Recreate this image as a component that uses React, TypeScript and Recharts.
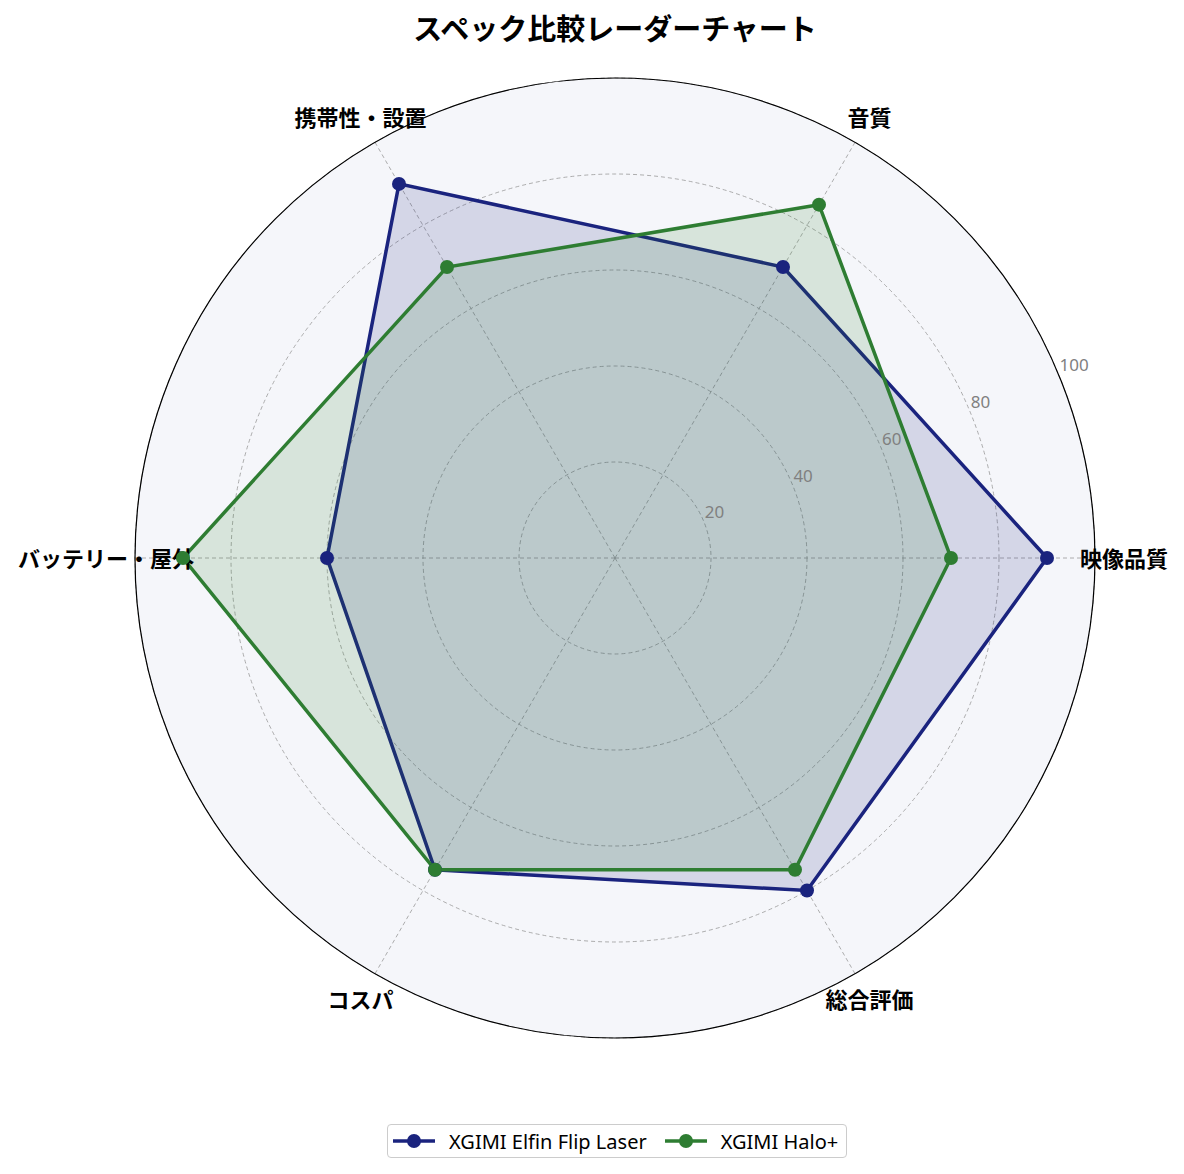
import React from 'react'
import {
  RadarChart,
  Radar,
  PolarGrid,
  PolarAngleAxis,
  PolarRadiusAxis,
} from 'recharts'

// listed clockwise starting from the right-hand axis
const categories = ['映像品質', '総合評価', 'コスパ', 'バッテリー・屋外', '携帯性・設置', '音質']
const elfinValues = [90, 80, 75, 60, 90, 70]
const haloValues = [70, 75, 75, 90, 70, 85]
const radiusTicks = [20, 40, 60, 80, 100]

const seriesNames = ['XGIMI Elfin Flip Laser', 'XGIMI Halo+']
const colors = ['#1a237e', '#2e7d32']

const data = categories.map((c, i) => ({
  subject: c,
  elfin: elfinValues[i],
  halo: haloValues[i],
}))

const W = 1184
const H = 1174
const CX = 615
const CY = 558
const R = 480
const LABEL_R = 509
const FONT = '"Noto Sans CJK JP", "Noto Sans", sans-serif'
const LATIN = '"Noto Sans", "Noto Sans CJK JP", sans-serif'

function AngleTick(props: any) {
  const a = Math.atan2(CY - props.y, props.x - CX)
  const x = CX + LABEL_R * Math.cos(a)
  const y = CY - LABEL_R * Math.sin(a)
  return (
    <text
      x={x}
      y={y - 1}
      textAnchor="middle"
      dominantBaseline="central"
      fontSize={22}
      fontWeight="bold"
      fill="#000"
      fontFamily={FONT}
    >
      {props.payload.value}
    </text>
  )
}

function RadiusTick(props: any) {
  return (
    <text
      x={props.x + 1}
      y={props.y - 3}
      textAnchor="start"
      fontSize={17}
      fill="#808080"
      fontFamily={LATIN}
    >
      {props.payload.value}
    </text>
  )
}

function LegendBox() {
  return (
    <div
      style={{
        position: 'absolute',
        left: 387,
        top: 1124,
        height: 34,
        display: 'flex',
        alignItems: 'center',
        border: '1px solid #cccccc',
        borderRadius: 4,
        padding: '0 8px 0 5px',
        background: '#fff',
        fontFamily: LATIN,
        fontSize: 20,
        color: '#000',
        boxSizing: 'border-box',
      }}
    >
      {seriesNames.map((n, i) => (
        <div key={n} style={{ display: 'flex', alignItems: 'center', marginRight: i === 0 ? 18 : 0 }}>
          <svg width={42} height={16} style={{ marginRight: 14 }}>
            <line x1={0} y1={8} x2={42} y2={8} stroke={colors[i]} strokeWidth={3.5} />
            <circle cx={21} cy={8} r={7} fill={colors[i]} />
          </svg>
          <span>{n}</span>
        </div>
      ))}
    </div>
  )
}

export default function App() {
  return (
    <div style={{ position: 'absolute', left: 0, top: 0, width: W, height: H, background: '#fff' }}>
      <div
        style={{
          position: 'absolute',
          left: CX - R,
          top: CY - R,
          width: 2 * R,
          height: 2 * R,
          borderRadius: '50%',
          background: '#f5f6fa',
        }}
      />
      <div
        style={{
          position: 'absolute',
          left: CX - 300,
          top: 9,
          width: 600,
          textAlign: 'center',
          fontFamily: FONT,
          fontWeight: 'bold',
          fontSize: 29,
          lineHeight: '36px',
          color: '#000',
        }}
      >
        スペック比較レーダーチャート
      </div>
      <div style={{ position: 'absolute', left: 0, top: 0 }}>
        <RadarChart
          width={W}
          height={H}
          data={data}
          cx={CX}
          cy={CY}
          outerRadius={R}
          startAngle={0}
          endAngle={-360}
          margin={{ top: 0, right: 0, bottom: 0, left: 0 }}
        >
          <PolarGrid gridType="circle" stroke="#999" strokeDasharray="4 3" strokeWidth={0.8} />
          <PolarAngleAxis
            dataKey="subject"
            tick={<AngleTick />}
            axisLineType="circle"
            axisLine={{ stroke: '#000', strokeWidth: 1.2, strokeDasharray: '0' }}
            tickLine={false}
          />
          <PolarRadiusAxis
            angle={22.5}
            domain={[0, 100]}
            ticks={radiusTicks as any}
            tick={<RadiusTick />}
            axisLine={false}
            tickLine={false}
          />
          <Radar
            name={seriesNames[0]}
            dataKey="elfin"
            stroke={colors[0]}
            strokeWidth={3.5}
            fill={colors[0]}
            fillOpacity={0.15}
            dot={{ r: 7, fill: colors[0], stroke: colors[0], strokeWidth: 0, fillOpacity: 1 }}
            isAnimationActive={false}
          />
          <Radar
            name={seriesNames[1]}
            dataKey="halo"
            stroke={colors[1]}
            strokeWidth={3.5}
            fill={colors[1]}
            fillOpacity={0.15}
            dot={{ r: 7, fill: colors[1], stroke: colors[1], strokeWidth: 0, fillOpacity: 1 }}
            isAnimationActive={false}
          />
        </RadarChart>
      </div>
      <LegendBox />
    </div>
  )
}
